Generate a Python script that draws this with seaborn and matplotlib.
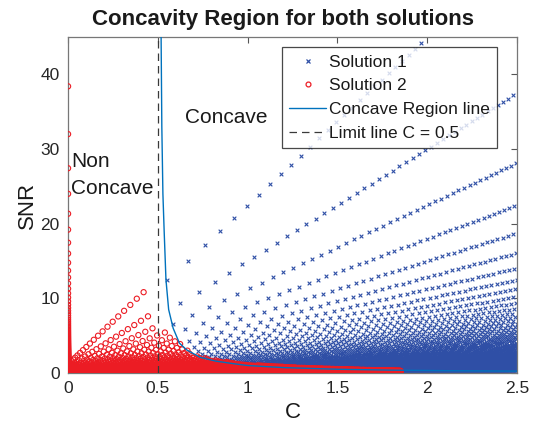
import numpy as np
import pandas as pd
import matplotlib
matplotlib.use("Agg")
import matplotlib.pyplot as plt
from matplotlib.lines import Line2D
import seaborn as sns

# ---- data ----
# Concave region line (read points, C vs SNR)
line_c = [0.518, 0.522, 0.528, 0.535, 0.545, 0.56, 0.585, 0.62, 0.66, 0.735,
          0.82, 0.92, 1.0, 1.2, 1.5, 1.8, 2.1, 2.5]
line_snr = [45, 33, 24, 19, 12.5, 8.5, 6.0, 4.0, 3.1, 2.1,
            1.6, 1.25, 1.0, 0.72, 0.5, 0.38, 0.31, 0.25]
limit_c = 0.5

# Solution 1: rays SNR = (ray_scale / j) * C, C^2 sampled on a uniform step
sol1_ray_scale = 45.0
sol1_ray_index = np.arange(2, 251)
sol1_c2_step = 0.137
sol1_c2_count = 47
sol1_phase_step = 0.618

# Solution 2: column at C = 0 with SNR = col_scale / j
sol2_col_scale = 192.0
sol2_col_index = np.arange(5, 400)
# Solution 2 fan: SNR = (fan_scale / (k+1)) * (C + fan_offset), sqrt(C) sampled on a step
sol2_fan_scale = 46.0
sol2_fan_offset = 0.05
sol2_fan_index = np.arange(1, 461)
sol2_sqrtc_step = 0.03
sol2_sqrtc_count = 46
sol2_phase_step = 0.618
# upper envelope of the solution-2 cloud
sol2_env_c = [0, 0.455, 0.47, 0.5, 0.6, 0.65, 0.7, 0.8, 1.0, 1.3, 1.6, 1.85, 1.86]
sol2_env_snr = [12, 12, 6.5, 6.0, 5.6, 3.3, 2.4, 1.8, 1.1, 0.7, 0.45, 0.3, 0]

x_ticks = [0, 0.5, 1, 1.5, 2, 2.5]
x_tick_labels = ["0", "0.5", "1", "1.5", "2", "2.5"]
y_ticks = [0, 10, 20, 30, 40]

# ---- build point tables ----
J, I = np.meshgrid(sol1_ray_index, np.arange(1, sol1_c2_count + 1), indexing="ij")
phase1 = (J * sol1_phase_step) % 1.0
C1 = np.sqrt(sol1_c2_step * (I + phase1))
S1 = sol1_ray_scale / J * C1
C1 = C1.ravel(); S1 = S1.ravel()
bound1 = np.where(C1 >= line_c[0], np.interp(C1, line_c, line_snr), np.inf)
keep1 = (S1 >= bound1) & (S1 <= 45) & (C1 <= 2.5)
sol1 = pd.DataFrame({"C": C1[keep1], "SNR": S1[keep1]})

col_snr = sol2_col_scale / sol2_col_index
K, I2 = np.meshgrid(sol2_fan_index, np.arange(1, sol2_sqrtc_count + 1), indexing="ij")
phase2 = (K * sol2_phase_step) % 1.0
T = sol2_sqrtc_step * (I2 + phase2)
C2 = (T ** 2).ravel()
S2 = (sol2_fan_scale / (K + 1) * (T ** 2 + sol2_fan_offset)).ravel()
keep2 = S2 <= np.interp(C2, sol2_env_c, sol2_env_snr)
sol2 = pd.DataFrame({"C": np.concatenate([np.zeros_like(col_snr), C2[keep2]]),
                     "SNR": np.concatenate([col_snr, S2[keep2]])})
sol2 = sol2[sol2.SNR <= 45]

line_df = pd.DataFrame({"C": line_c, "SNR": line_snr})
limit_df = pd.DataFrame({"C": [limit_c, limit_c], "SNR": [0, 45]})

# ---- plot ----
sns.set_style("white")
plt.rcParams["font.family"] = ["Liberation Sans", "DejaVu Sans"]

blue = "#2f4fa6"
red = "#ec1c24"
line_blue = "#0072BD"
dash_col = "#3a3a3a"

fig = plt.figure(figsize=(5.36, 4.34), dpi=100)
ax = fig.add_axes([0.127, 0.1406, 0.8377, 0.774])

sns.scatterplot(data=sol1, x="C", y="SNR", ax=ax, marker="x", s=7,
                color=blue, linewidth=0.8, legend=False, zorder=2)
sns.scatterplot(data=sol2, x="C", y="SNR", ax=ax, marker="o", s=14,
                facecolors="none", edgecolor=red, linewidth=0.8,
                legend=False, zorder=3)
sns.lineplot(data=line_df, x="C", y="SNR", ax=ax, color=line_blue, lw=1.0,
             sort=False, estimator=None, zorder=4)
sns.lineplot(data=limit_df, x="C", y="SNR", ax=ax, color=dash_col, lw=0.9,
             dashes=False, linestyle=(0, (6, 4)), estimator=None, zorder=5)

ax.set_xlim(0, 2.5)
ax.set_ylim(0, 45)
ax.set_xticks(x_ticks)
ax.set_xticklabels(x_tick_labels)
ax.set_yticks(y_ticks)
ax.tick_params(direction="in", top=True, right=True, length=4, width=0.8,
               colors="#555555", labelsize=12.5, labelcolor="#262626", pad=6)
for sp in ax.spines.values():
    sp.set_color("#777777")
    sp.set_linewidth(0.9)

ax.set_xlabel("C", fontsize=16, color="#1a1a1a", labelpad=4)
ax.set_ylabel("SNR", fontsize=16, color="#1a1a1a", labelpad=2)
fig.text(283 / 536, 1 - 20 / 434, "Concavity Region for both solutions",
         fontsize=16, fontweight="bold", color="#1a1a1a",
         ha="center", va="center")

ax.text(0.88, 34.2, "Concave", fontsize=15, ha="center", va="center",
        color="#1a1a1a")
ax.text(0.015, 29.6, "Non\nConcave", fontsize=15, ha="left", va="top",
        color="#1a1a1a", linespacing=1.5)

handles = [
    Line2D([], [], marker="x", color=blue, linestyle="none", markersize=3,
           markeredgewidth=0.9),
    Line2D([], [], marker="o", color=red, markerfacecolor="none",
           linestyle="none", markersize=3.5, markeredgewidth=0.9),
    Line2D([], [], color=line_blue, lw=1.0),
    Line2D([], [], color=dash_col, lw=0.9, linestyle=(0, (6, 4))),
]
labels = ["Solution 1", "Solution 2", "Concave Region line", "Limit line C = 0.5"]
leg = ax.legend(handles, labels, loc="upper left", bbox_to_anchor=(0.4766, 0.970),
                borderaxespad=0, fontsize=12.5, frameon=True, fancybox=False,
                handlelength=2.1, handletextpad=0.2, labelspacing=0.5,
                borderpad=0.42, labelcolor="#1a1a1a")
leg.get_frame().set_edgecolor("#1a1a1a")
leg.get_frame().set_linewidth(0.9)

fig.savefig("out.png", dpi=100)
